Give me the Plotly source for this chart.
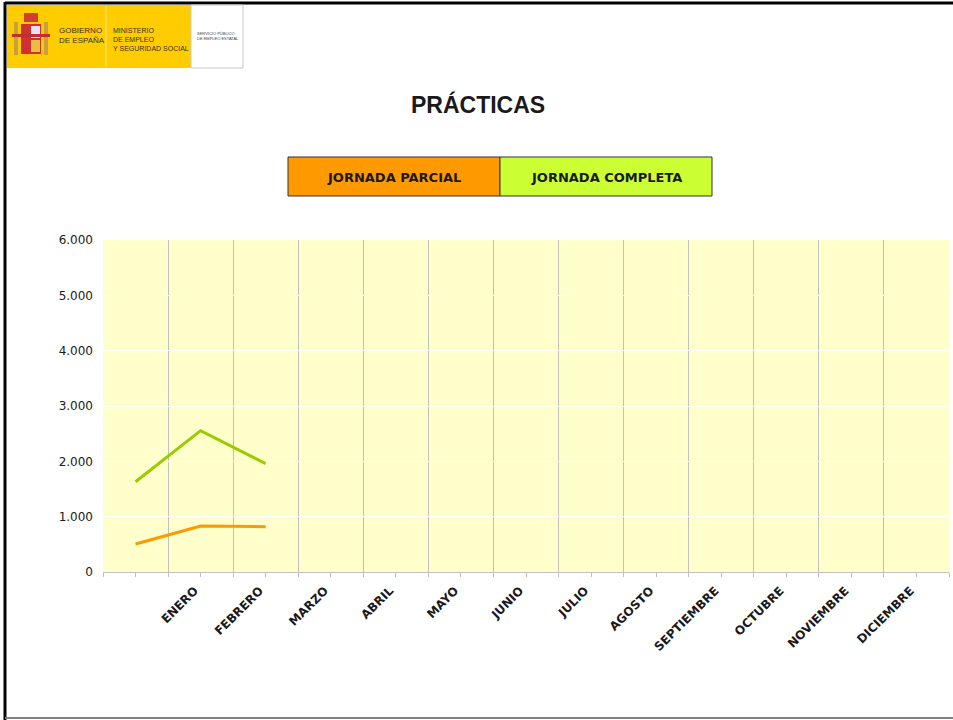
import plotly.graph_objects as go

# ---- data ----
categories = ["", "ENERO", "FEBRERO", "MARZO", "ABRIL", "MAYO", "JUNIO", "JULIO",
              "AGOSTO", "SEPTIEMBRE", "OCTUBRE", "NOVIEMBRE", "DICIEMBRE"]
jornada_parcial = [506, 831, 819]
jornada_completa = [1632, 2554, 1957]
y_tickvals = [0, 1000, 2000, 3000, 4000, 5000, 6000]
y_ticktext = ["0", "1.000", "2.000", "3.000", "4.000", "5.000", "6.000"]
series_names = ["JORNADA PARCIAL", "JORNADA COMPLETA"]

W, H = 953, 720
L, R, T, B = 103, 4, 240, 148
PW, PH = W - L - R, H - T - B


def px(x):
    return (x - L) / PW


def py(y):
    return (H - B - y) / PH


x_idx = list(range(len(categories)))

fig = go.Figure()
fig.add_trace(go.Scatter(x=x_idx[:len(jornada_completa)], y=jornada_completa, mode="lines",
                         line=dict(color="#99CC00", width=3), name=series_names[1],
                         showlegend=False))
fig.add_trace(go.Scatter(x=x_idx[:len(jornada_parcial)], y=jornada_parcial, mode="lines",
                         line=dict(color="#FF9900", width=3), name=series_names[0],
                         showlegend=False))

shapes = []
annotations = []

# frame
shapes.append(dict(type="line", xref="paper", yref="paper", x0=px(5), x1=px(953), y0=py(3), y1=py(3),
                   line=dict(color="black", width=3)))
shapes.append(dict(type="line", xref="paper", yref="paper", x0=px(5), x1=px(5), y0=py(2), y1=py(720),
                   line=dict(color="black", width=3)))
shapes.append(dict(type="line", xref="paper", yref="paper", x0=px(5), x1=px(953), y0=py(718), y1=py(718),
                   line=dict(color="#808080", width=2)))

# logo
shapes.append(dict(type="rect", xref="paper", yref="paper", x0=px(7), x1=px(191), y0=py(5), y1=py(68),
                   fillcolor="#FFCC00", line=dict(width=0)))
shapes.append(dict(type="rect", xref="paper", yref="paper", x0=px(191), x1=px(243), y0=py(5), y1=py(68),
                   fillcolor="white", line=dict(color="#C8C8C8", width=1)))
shapes.append(dict(type="line", xref="paper", yref="paper", x0=px(106), x1=px(106), y0=py(6), y1=py(67),
                   line=dict(color="#FFE680", width=1)))
# coat of arms (simplified)
shapes.append(dict(type="rect", xref="paper", yref="paper", x0=px(14), x1=px(18), y0=py(22), y1=py(55),
                   fillcolor="#C8A040", line=dict(width=0)))
shapes.append(dict(type="rect", xref="paper", yref="paper", x0=px(44), x1=px(48), y0=py(22), y1=py(55),
                   fillcolor="#C8A040", line=dict(width=0)))
shapes.append(dict(type="rect", xref="paper", yref="paper", x0=px(21), x1=px(41), y0=py(24), y1=py(54),
                   fillcolor="#D03030", line=dict(width=0)))
shapes.append(dict(type="rect", xref="paper", yref="paper", x0=px(31), x1=px(40), y0=py(26), y1=py(38),
                   fillcolor="#E8E0F0", line=dict(width=0)))
shapes.append(dict(type="rect", xref="paper", yref="paper", x0=px(31), x1=px(40), y0=py(40), y1=py(52),
                   fillcolor="#E8C040", line=dict(width=0)))
shapes.append(dict(type="rect", xref="paper", yref="paper", x0=px(24), x1=px(38), y0=py(13), y1=py(22),
                   fillcolor="#D04030", line=dict(width=0)))
shapes.append(dict(type="rect", xref="paper", yref="paper", x0=px(12), x1=px(50), y0=py(34), y1=py(37),
                   fillcolor="#C03030", line=dict(width=0)))

annotations.append(dict(text="GOBIERNO<br>DE ESPAÑA", xref="paper", yref="paper", x=px(57), y=py(35),
                        xanchor="left", yanchor="middle", showarrow=False, align="left",
                        font=dict(family="Liberation Sans", size=8, color="#3A3020")))
annotations.append(dict(text="MINISTERIO<br>DE EMPLEO<br>Y SEGURIDAD SOCIAL", xref="paper", yref="paper",
                        x=px(111), y=py(39), xanchor="left", yanchor="middle", showarrow=False, align="left",
                        font=dict(family="Liberation Sans", size=7, color="#3A3020")))
annotations.append(dict(text="SERVICIO PÚBLICO<br>DE EMPLEO ESTATAL", xref="paper", yref="paper",
                        x=px(195), y=py(36), xanchor="left", yanchor="middle", showarrow=False, align="left",
                        font=dict(family="Liberation Sans", size=4, color="#404040")))

# title
annotations.append(dict(text="<b>PRÁCTICAS</b>", xref="paper", yref="paper", x=px(478), y=py(104),
                        xanchor="center", yanchor="middle", showarrow=False,
                        font=dict(family="Liberation Sans", size=23, color="#1A1A1A")))

# legend boxes
legend_boxes = [(288, 500, "#FF9900"), (500, 712, "#CCFF33")]
for (x0, x1, col), name in zip(legend_boxes, series_names):
    shapes.append(dict(type="rect", xref="paper", yref="paper", x0=px(x0), x1=px(x1), y0=py(157), y1=py(196),
                       fillcolor=col, line=dict(color="#333333", width=1)))
    annotations.append(dict(text="<b>" + name + "</b>", xref="paper", yref="paper", x=px((x0 + x1) / 2),
                            y=py(178), xanchor="center", yanchor="middle", showarrow=False,
                            font=dict(family="DejaVu Sans", size=13, color="#1A1A1A")))

fig.update_layout(
    width=W, height=H,
    margin=dict(l=L, r=R, t=T, b=B, pad=0),
    paper_bgcolor="white",
    plot_bgcolor="#FFFFCC",
    shapes=shapes,
    annotations=annotations,
    showlegend=False,
    xaxis=dict(
        range=[-0.5, len(categories) - 0.5],
        tickmode="array", tickvals=x_idx, ticktext=categories,
        tickangle=-45, ticks="outside", ticklen=4, tickcolor="#C0C0C0",
        ticklabelstandoff=2, ticklabelshift=-6,
        showgrid=False, zeroline=False,
        showline=True, linecolor="#C0C0C0", linewidth=1,
        tickfont=dict(family="DejaVu Sans", size=12, color="#1A1A1A", weight="bold"),
        minor=dict(tickmode="array", tickvals=[i + 0.5 for i in range(-1, len(categories))],
                   showgrid=True, gridcolor="#C0C0C0", gridwidth=1,
                   ticks="outside", ticklen=4, tickcolor="#C0C0C0"),
    ),
    yaxis=dict(
        range=[0, 6000],
        tickmode="array", tickvals=y_tickvals, ticktext=y_ticktext,
        showgrid=True, gridcolor="white", gridwidth=1,
        zeroline=False, showline=False, ticks="",
        ticklabelstandoff=9,
        tickfont=dict(family="DejaVu Sans", size=12, color="#1A1A1A"),
    ),
)

fig.write_html("out.html", config={"displayModeBar": False},
               post_script="document.body.style.margin='0';document.body.style.overflow='hidden';")
